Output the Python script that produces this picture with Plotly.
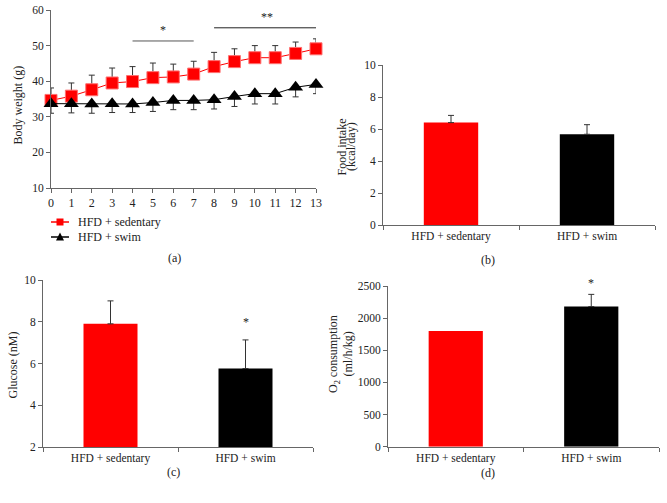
import plotly.graph_objects as go

# (a) body weight over weeks
weeks = list(range(14))
sed_weight = [34.6, 35.8, 37.6, 39.5, 39.9, 41.0, 41.2, 42.0, 44.1, 45.5, 46.6, 46.6, 47.8, 49.1]
sed_err = [3.5, 3.7, 4.1, 4.2, 4.2, 4.1, 3.6, 3.6, 4.0, 3.6, 3.4, 3.4, 3.2, 2.8]
swim_weight = [33.7, 33.7, 33.6, 33.7, 33.6, 34.0, 34.6, 34.6, 34.8, 35.7, 36.5, 36.5, 38.3, 39.1]
swim_err = [2.7, 2.6, 2.6, 2.5, 2.4, 2.5, 2.6, 2.6, 2.6, 2.8, 2.9, 2.9, 2.7, 2.6]

groups = ['HFD + sedentary', 'HFD + swim']
bar_colors = ['#ff0000', '#000000']
# (b) food intake
food = [6.4, 5.67]
food_err = [0.45, 0.6]
# (c) glucose
glucose = [7.9, 5.76]
glucose_err = [1.1, 1.37]
# (d) O2 consumption
o2 = [1800, 2180]
o2_err = [0, 190]

FONT = 'Liberation Serif'
TXT = '#222222'
AX = '#666666'
W, H = 667, 503


def px(x):
    return x / W


def py(y):
    return 1 - y / H


def dom_x(a, b):
    return [px(a), px(b)]


def dom_y(top, bottom):
    return [py(bottom), py(top)]


fig = go.Figure()

# panel (a)
fig.add_trace(go.Scatter(
    x=weeks, y=sed_weight, mode='lines+markers', showlegend=False,
    line=dict(color='#ff0000', width=1),
    marker=dict(symbol='square', size=12, color='#ff0000', line=dict(color='#ff7070', width=1)),
    error_y=dict(type='data', symmetric=False, array=sed_err, arrayminus=[0] * 14,
                 color='#333333', thickness=1, width=3),
    cliponaxis=False, xaxis='x', yaxis='y'))
fig.add_trace(go.Scatter(
    x=weeks, y=swim_weight, mode='lines+markers', showlegend=False,
    line=dict(color='#000000', width=1),
    marker=dict(symbol='triangle-up', size=13, color='#000000'),
    error_y=dict(type='data', symmetric=False, array=[0] * 14, arrayminus=swim_err,
                 color='#333333', thickness=1, width=3),
    cliponaxis=False, xaxis='x', yaxis='y'))

# bar panels
for vals, errs, ax in [(food, food_err, '2'), (glucose, glucose_err, '3'), (o2, o2_err, '4')]:
    for g, v, e, c in zip(groups, vals, errs, bar_colors):
        fig.add_trace(go.Bar(
            x=[g], y=[v], marker=dict(color=c, line=dict(width=0)), width=0.4,
            error_y=dict(type='data', symmetric=False, array=[e], arrayminus=[0],
                         color='#333333', thickness=1, width=3, visible=e > 0),
            showlegend=False, xaxis='x' + ax, yaxis='y' + ax))

tick = dict(family=FONT, size=11.5, color=TXT)
base_x = dict(showline=True, linecolor=AX, linewidth=1, ticks='outside', tickcolor=AX,
              ticklen=4, showgrid=False, zeroline=False, tickfont=tick, automargin=False)
base_y = dict(showline=True, linecolor=AX, linewidth=1, ticks='outside', tickcolor=AX,
              ticklen=4, showgrid=False, zeroline=False, tickfont=tick, automargin=False)
cat_x = dict(base_x, type='category', tickson='boundaries', range=[-0.5, 1.5])

fig.update_layout(
    width=W, height=H, margin=dict(l=0, r=0, t=0, b=0, autoexpand=False),
    paper_bgcolor='white', plot_bgcolor='white', showlegend=False,
    font=dict(family=FONT, size=11, color=TXT),
    xaxis=dict(base_x, domain=dom_x(51, 316), range=[0, 13], tickmode='array', tickvals=weeks,
               tickfont=dict(tick, size=12), anchor='y'),
    yaxis=dict(base_y, domain=dom_y(10, 188), range=[10, 60], dtick=10, anchor='x'),
    xaxis2=dict(cat_x, domain=dom_x(383, 655), anchor='y2'),
    yaxis2=dict(base_y, domain=dom_y(65, 225), range=[0, 10], dtick=2, anchor='x2'),
    xaxis3=dict(cat_x, domain=dom_x(43, 313), anchor='y3'),
    yaxis3=dict(base_y, domain=dom_y(280, 447), range=[2, 10], dtick=2, anchor='x3'),
    xaxis4=dict(cat_x, domain=dom_x(388, 659), anchor='y4'),
    yaxis4=dict(base_y, domain=dom_y(286, 446.7), range=[0, 2500], dtick=500, anchor='x4'),
)

# y axis titles, placed as in the original (tight two-line spacing)
title_font = dict(family=FONT, size=12, color=TXT)
for text, tx, ty in [('Body weight (g)', 17.5, 105),
                     ('Food intake', 341.5, 147), ('(kcal/day)', 351, 147),
                     ('Glucose (nM)', 12.5, 365),
                     ('O<sub>2</sub> consumption', 334, 354), ('(ml/h/kg)', 347.5, 354)]:
    fig.add_annotation(x=px(tx), y=py(ty), xref='paper', yref='paper', text=text,
                       textangle=-90, xanchor='center', yanchor='middle',
                       showarrow=False, font=title_font)

# legend for (a), drawn by hand to keep the tight spacing of the original
legend_rows = [('HFD + sedentary', '#ff0000', 'square', 222), ('HFD + swim', '#000000', 'triangle', 237)]
for name, col, sym, ly in legend_rows:
    fig.add_shape(type='line', xref='paper', yref='paper', x0=px(51), x1=px(69),
                  y0=py(ly), y1=py(ly), line=dict(color=col, width=1.5))
    if sym == 'square':
        fig.add_shape(type='rect', xref='paper', yref='paper', x0=px(56.5), x1=px(63.5),
                      y0=py(225.5), y1=py(218.5), line=dict(width=0), fillcolor=col)
    else:
        path = 'M {:.4f} {:.4f} L {:.4f} {:.4f} L {:.4f} {:.4f} Z'.format(
            px(56), py(240.5), px(64), py(240.5), px(60), py(232.5))
        fig.add_shape(type='path', xref='paper', yref='paper', path=path,
                      line=dict(width=0), fillcolor=col)
    fig.add_annotation(x=px(76), y=py(ly), xref='paper', yref='paper', text=name,
                       xanchor='left', showarrow=False,
                       font=dict(family=FONT, size=12, color=TXT))

# significance bars in (a)
fig.add_shape(type='line', xref='x', yref='y', x0=4, x1=7, y0=51.3, y1=51.3,
              line=dict(color='#555555', width=1))
fig.add_shape(type='line', xref='x', yref='y', x0=8, x1=13.2, y0=55, y1=55,
              line=dict(color='#222222', width=1))
star = dict(family=FONT, size=12, color=TXT)
fig.add_annotation(x=5.5, y=51.3, xref='x', yref='y', text='*', showarrow=False,
                   yanchor='bottom', yshift=2, font=star)
fig.add_annotation(x=10.6, y=55, xref='x', yref='y', text='**', showarrow=False,
                   yanchor='bottom', yshift=2, font=star)
fig.add_annotation(x=1, y=8.0, xref='x3', yref='y3', text='*', showarrow=False, font=star)
fig.add_annotation(x=1, y=2500, xref='x4', yref='y4', text='*', showarrow=False,
                   yshift=3, font=star)

# panel labels
for lbl, lx, ly in [('(a)', 166, 258), ('(b)', 497, 260), ('(c)', 165, 481), ('(d)', 497, 482)]:
    fig.add_annotation(x=px(lx), y=py(ly), xref='paper', yref='paper', text=lbl,
                       showarrow=False, font=dict(family=FONT, size=12, color=TXT))

# drop the default page margin so the figure fills the window exactly
fig.write_html('out.html', config={'displayModeBar': False},
               post_script="document.body.style.margin='0';")
